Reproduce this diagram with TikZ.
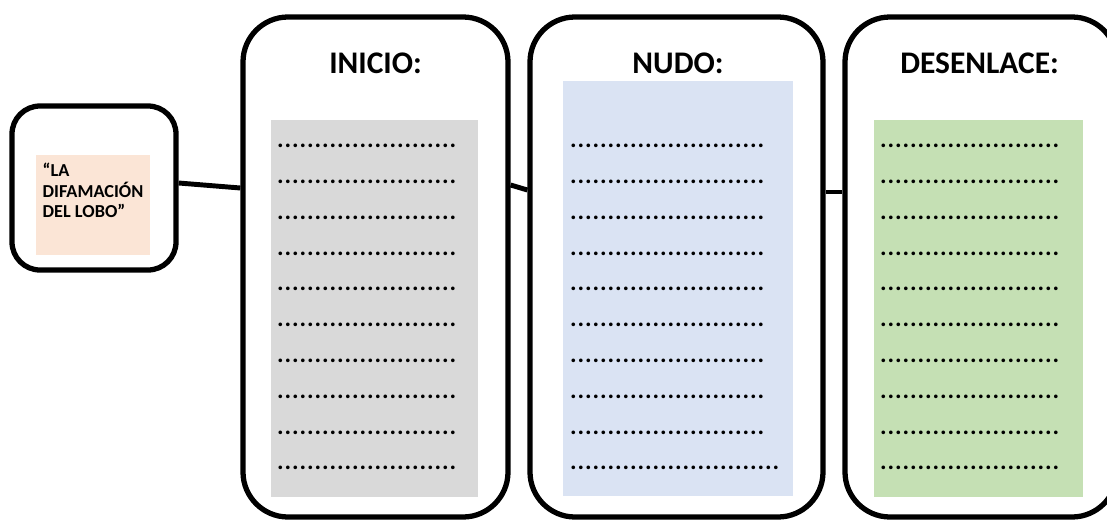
\documentclass[tikz,border=0pt]{standalone}
\usepackage{fontspec}
\setmainfont{Carlito}
\usepackage{xcolor}
\usepackage{tikz}
\usetikzlibrary{positioning}
\usetikzlibrary{calc}
\definecolor{grisclaro}{HTML}{D9D9D9}
\definecolor{azulclaro}{HTML}{DAE3F3}
\definecolor{verdeclaro}{HTML}{C5E0B4}
\definecolor{rosaclaro}{HTML}{FBE5D6}

\tikzset{
  caja/.style={draw=black,line width=3pt,rounded corners=0.9cm,inner sep=0pt,minimum height=10cm},
  panel/.style={inner sep=0pt,minimum width=#1},
  titulo/.style={anchor=base,inner sep=0pt,font=\bfseries\fontsize{17.9}{20}\selectfont},
  renglon/.style={anchor=west,inner sep=0pt,font=\bfseries\fontsize{14}{14}\selectfont},
  enlace/.style={line width=2.8pt}
}
%% una fila de puntos del ancho pedido
\newcommand{\puntos}[1]{\makebox[#1]{\leaders\hbox to 0.15cm{\hss.\hss}\hfill}}

\begin{document}
\begin{tikzpicture}[thick,scale=1]
\useasboundingbox (0,0) rectangle (22.14,-10.42);

%% cuadro del titulo
\node[caja,rounded corners=0.56cm,minimum width=3.28cm,minimum height=3.28cm] (lobo) at (1.88,-3.76) {};
\node[fill=rosaclaro,minimum width=2.28cm,minimum height=2cm,inner sep=0pt] (rosa) at (1.86,-4.1) {};
\node[anchor=north west,inner sep=0pt,align=left,font=\bfseries\fontsize{10.4}{11.6}\selectfont] (nombre) at (0.84,-3.25) {``LA\\DIFAMACIÓN\\DEL LOBO''};

%% las tres partes
\node[caja,minimum width=5.3cm] (inicio) at (7.51,-5.34) {};
\node[caja,minimum width=5.86cm] (nudo) at (13.53,-5.34) {};
\node[caja,minimum width=5.44cm] (desenlace) at (19.62,-5.34) {};

\node[panel=4.14cm,fill=grisclaro,minimum height=7.54cm] (gris) at (7.49,-6.17) {};
\node[panel=4.6cm,fill=azulclaro,minimum height=8.3cm] (azul) at (13.56,-5.77) {};
\node[panel=4.18cm,fill=verdeclaro,minimum height=7.54cm] (verde) at (19.57,-6.17) {};

\node[titulo] (tinicio) at (7.51,-1.46) {INICIO:};
\node[titulo] (tnudo) at (13.56,-1.46) {NUDO:};
\node[titulo] (tdesenlace) at (19.59,-1.46) {DESENLACE:};

%% renglones de puntos
\foreach \i in {0,...,9} {
  \node[renglon] (fi\i) at (5.52,-2.92-0.716*\i) {\puntos{3.64cm}};
  \node[renglon] (fd\i) at (17.58,-2.92-0.716*\i) {\puntos{3.62cm}};
}
\foreach \i in {0,...,8}
  \node[renglon] (fn\i) at (11.38,-2.92-0.716*\i) {\puntos{3.98cm}};
\node[renglon] (fn9) at (11.38,-2.92-0.716*9) {\puntos{4.24cm}};

%% uniones entre cuadros
\draw[enlace] ([yshift=0.1cm]lobo.east) -- (lobo.east -| inicio.west);
\draw[enlace] ([yshift=1.64cm]inicio.east) -- ([yshift=1.54cm]nudo.west);
\draw[enlace] ([yshift=1.5cm]nudo.east) -- ([yshift=1.5cm]desenlace.west);
\end{tikzpicture}
\end{document}
